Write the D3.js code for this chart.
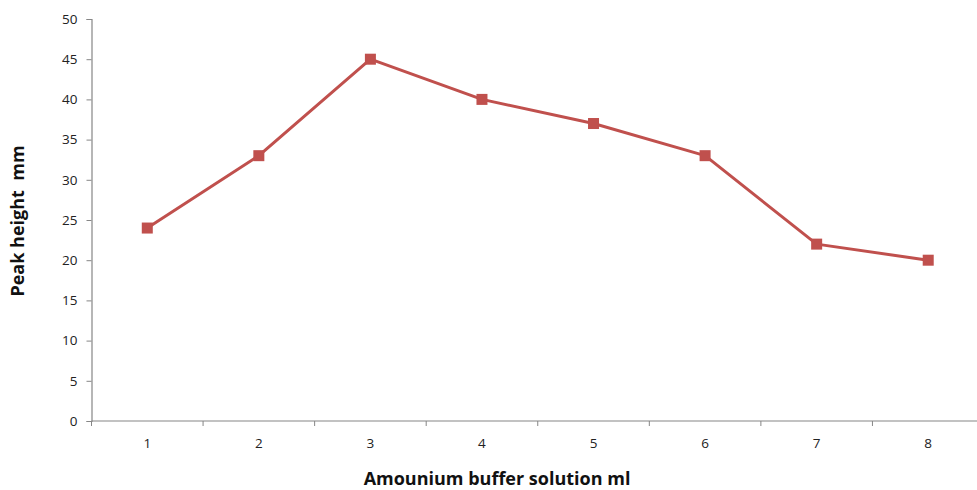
<!DOCTYPE html>
<html>
<head>
<meta charset="utf-8">
<script src="https://cdn.jsdelivr.net/npm/d3@7"></script>
<style>
  body { margin: 0; background: #fff; }
  text { font-family: 'Open Sans', 'Noto Sans', sans-serif; }
</style>
</head>
<body>
<div class="viz"></div>
<script>
// data
const categories = ['1', '2', '3', '4', '5', '6', '7', '8']
const peakHeight = [24, 33, 45, 40, 37, 33, 22, 20]
const yTicks = [0, 5, 10, 15, 20, 25, 30, 35, 40, 45, 50]

const width = 977, height = 490
const margin = { top: 19, right: -7, bottom: 69, left: 91.5 }

const svg = d3.select('.viz').append('svg')
  .attr('width', width)
  .attr('height', height)

const x = d3.scaleBand()
  .domain(categories)
  .range([margin.left, width - margin.right])

const y = d3.scaleLinear()
  .domain([0, 50])
  .range([height - margin.bottom, margin.top])

const axisColor = '#868686'

// y axis
const yAxis = svg.append('g')
  .attr('transform', `translate(${margin.left},0)`)
  .call(d3.axisLeft(y).tickValues(yTicks).tickSize(5).tickPadding(9))
yAxis.select('.domain').attr('stroke', axisColor).attr('stroke-width', 1.2)
yAxis.selectAll('.tick line').attr('stroke', axisColor)
yAxis.selectAll('.tick text').attr('font-size', 13.5).attr('fill', '#222')
  .style('font-family', "'Open Sans', sans-serif")

// x axis: ticks sit on the band edges, labels in the middle
const xAxis = svg.append('g')
  .attr('transform', `translate(0,${y(0)})`)
xAxis.append('line')
  .attr('x1', margin.left).attr('x2', width)
  .attr('stroke', axisColor).attr('stroke-width', 1.2)
xAxis.selectAll('line.tick')
  .data(categories).enter().append('line')
  .attr('class', 'tick')
  .attr('x1', d => x(d)).attr('x2', d => x(d))
  .attr('y1', 0).attr('y2', 5)
  .attr('stroke', axisColor)
xAxis.selectAll('text')
  .data(categories).enter().append('text')
  .attr('x', d => x(d) + x.bandwidth() / 2)
  .attr('y', 27)
  .attr('text-anchor', 'middle')
  .attr('font-size', 13.5)
  .attr('fill', '#222')
  .text(d => d)

// line + square markers
const points = categories.map((c, i) => ({ c, v: peakHeight[i] }))
const line = d3.line()
  .x(d => x(d.c) + x.bandwidth() / 2)
  .y(d => y(d.v))

svg.append('path')
  .datum(points)
  .attr('d', line)
  .attr('fill', 'none')
  .attr('stroke', '#C0504D')
  .attr('stroke-width', 3)
  .attr('stroke-linejoin', 'round')

const ms = 11
svg.selectAll('rect.marker')
  .data(points).enter().append('rect')
  .attr('class', 'marker')
  .attr('x', d => x(d.c) + x.bandwidth() / 2 - ms / 2)
  .attr('y', d => y(d.v) - ms / 2)
  .attr('width', ms)
  .attr('height', ms)
  .attr('fill', '#C0504D')

// axis titles
svg.append('text')
  .attr('x', 497)
  .attr('y', 485)
  .attr('text-anchor', 'middle')
  .attr('font-size', 18)
  .attr('font-weight', 'bold')
  .attr('fill', '#111')
  .text('Amounium buffer solution ml')

svg.append('text')
  .attr('transform', 'translate(24,221) rotate(-90)')
  .attr('text-anchor', 'middle')
  .attr('font-size', 18)
  .attr('font-weight', 'bold')
  .attr('fill', '#111')
  .style('white-space', 'pre')
  .text('Peak height  mm')
</script>
</body>
</html>
